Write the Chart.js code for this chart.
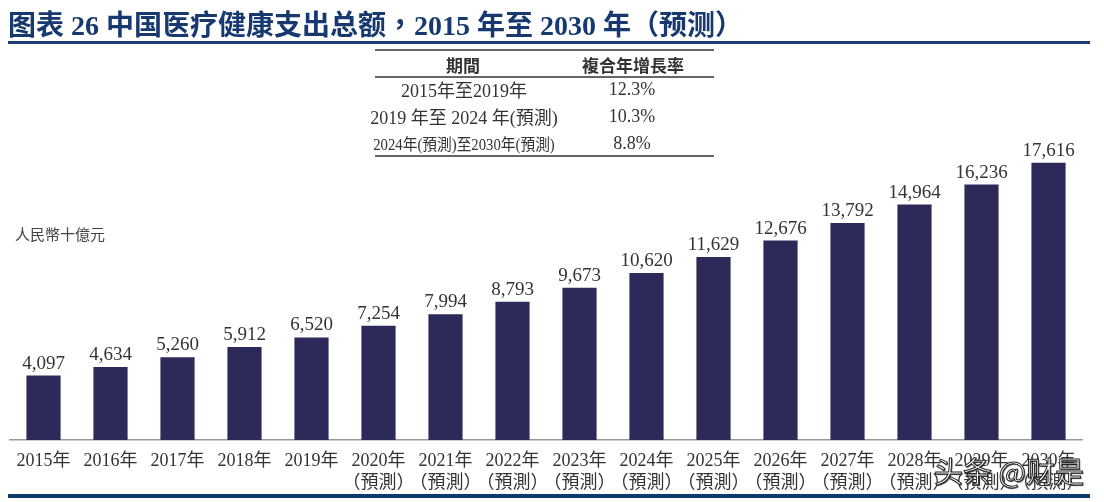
<!DOCTYPE html>
<html>
<head>
<meta charset="utf-8">
<script src="https://cdn.jsdelivr.net/npm/chart.js@4"></script>
<style>
  body { margin: 0; width: 1104px; height: 502px; background: #fff; position: relative; overflow: hidden;
         font-family: "Liberation Serif", "Noto Sans CJK TC", serif; }
  .abs { position: absolute; white-space: nowrap; }
  #title { left: 8px; top: 3px; font-size: 28px; font-weight: bold; color: #17396f; }
  .rule { position: absolute; left: 8px; width: 1082px; background: #1a3c72; }
  .tline { position: absolute; left: 375px; width: 339px; background: #666; }
  .cell { position: absolute; transform: translate(-50%, -50%); white-space: nowrap; color: #333; font-size: 18px; }
  #unit { left: 15px; top: 223px; font-size: 15px; color: #444; font-family: "Noto Sans CJK TC", sans-serif; }
  #wrap { position: absolute; left: 0; top: 0; width: 1104px; height: 502px; }
  #mark { left: 934px; top: 449px; font-size: 29px; color: #fff; font-family: "Noto Sans CJK SC", sans-serif;
          -webkit-text-stroke: 1px #222; text-shadow: 1px 1px 1px #444; }
</style>
</head>
<body>
<div id="wrap"><canvas id="chart"></canvas></div>
<div id="title" class="abs">图表 26 中国医疗健康支出总额，2015 年至 2030 年（预测）</div>
<div class="rule" style="top:41px;height:3px;"></div>
<div class="rule" style="top:494px;height:4px;background:#0d3b6e;"></div>
<div id="unit" class="abs">人民幣十億元</div>
<div id="table"></div>
<div id="mark" class="abs">头条 @财是</div>
<script>
// data
const years = ['2015年', '2016年', '2017年', '2018年', '2019年', '2020年', '2021年', '2022年',
               '2023年', '2024年', '2025年', '2026年', '2027年', '2028年', '2029年', '2030年'];
const forecastFrom = '2020年';
const spending = [4097, 4634, 5260, 5912, 6520, 7254, 7994, 8793,
                  9673, 10620, 11629, 12676, 13792, 14964, 16236, 17616];

const tableHeader = ['期間', '複合年增長率'];
const periods = ['2015年至2019年', '2019 年至 2024 年(預測)', '2024年(預測)至2030年(預測)'];
const cagr = ['12.3%', '10.3%', '8.8%'];

// CAGR table
const table = document.getElementById('table');
function addCell(text, x, y, extra) {
    let d = document.createElement('div');
    d.className = 'cell';
    d.textContent = text;
    d.style.left = x + 'px';
    d.style.top = y + 'px';
    if (extra) d.style.cssText += extra;
    table.appendChild(d);
}
function addLine(y, h) {
    let d = document.createElement('div');
    d.className = 'tline';
    d.style.top = y + 'px';
    d.style.height = h + 'px';
    table.appendChild(d);
}
addLine(49, 2);
addLine(76, 1.5);
addLine(155, 2);
addCell(tableHeader[0], 463, 64, 'font-weight:bold;font-family:"Noto Sans CJK TC";font-size:17px;');
addCell(tableHeader[1], 633, 64, 'font-weight:bold;font-family:"Noto Sans CJK TC";font-size:17px;');
periods.forEach((p, i) => {
    let y = 89 + i * 27;
    let extra = i === 2 ? 'font-size:16px;transform:translate(-50%,-50%) scaleX(0.92);' : '';
    addCell(p, 464, y, extra);
    addCell(cagr[i], 632, y);
});

// labels: forecast years get a second line
const labels = years.map((y, i) => i >= years.indexOf(forecastFrom) ? [y, '（預測）'] : y);

const valueLabels = {
    id: 'valueLabels',
    afterDatasetsDraw(chart) {
        const ctx = chart.ctx;
        const meta = chart.getDatasetMeta(0);
        ctx.save();
        ctx.font = '19px "Liberation Serif", serif';
        ctx.fillStyle = '#333';
        ctx.textAlign = 'center';
        ctx.textBaseline = 'alphabetic';
        meta.data.forEach((bar, i) => {
            ctx.fillText(spending[i].toLocaleString('en-US'), bar.x, bar.y - 7);
        });
        ctx.restore();
    }
};

new Chart(document.getElementById('chart'), {
    type: 'bar',
    data: {
        labels: labels,
        datasets: [{
            data: spending,
            backgroundColor: '#2c2a58',
            categoryPercentage: 1,
            barPercentage: 0.51
        }]
    },
    options: {
        responsive: true,
        maintainAspectRatio: false,
        animation: false,
        layout: { padding: { left: 10, right: 22, top: 97, bottom: 0 } },
        plugins: { legend: { display: false }, tooltip: { enabled: false } },
        scales: {
            x: {
                grid: { display: false, drawTicks: false },
                border: { display: true, color: '#999', width: 1.5 },
                ticks: {
                    autoSkip: false,
                    maxRotation: 0,
                    padding: 10,
                    color: '#333',
                    font: { family: '"Liberation Serif", "Noto Sans CJK TC", serif', size: 18, lineHeight: 1.25 }
                },
                afterFit(scale) { scale.height = 62; }
            },
            y: {
                display: false,
                min: 0,
                max: 21800
            }
        }
    },
    plugins: [valueLabels]
});
</script>
</body>
</html>
